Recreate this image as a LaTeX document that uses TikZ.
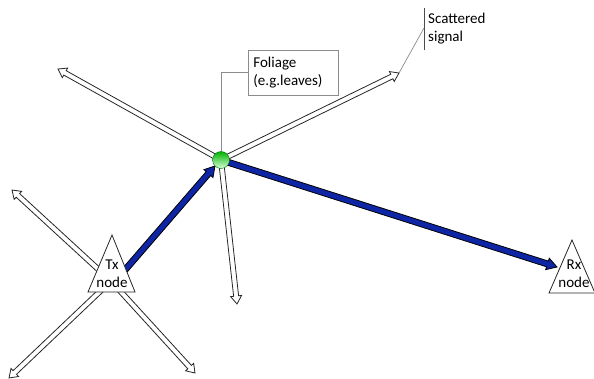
\documentclass[tikz,border=0pt]{standalone}
\usetikzlibrary{calc}
\usepackage{fontspec}
\setmainfont{Carlito}
\definecolor{sigblue}{RGB}{14,38,165}
\begin{document}
\begin{tikzpicture}[x=1pt,y=-1pt,
  fat/.style n args={3}{to path={
    ($(\tikztostart)!#1!90:(\tikztotarget)$)
    -- ($(\tikztotarget)!#3!(\tikztostart)!#1!-90:(\tikztostart)$)
    -- ($(\tikztotarget)!#3!(\tikztostart)!#2!-90:(\tikztostart)$)
    -- (\tikztotarget)
    -- ($(\tikztotarget)!#3!(\tikztostart)!#2!90:(\tikztostart)$)
    -- ($(\tikztotarget)!#3!(\tikztostart)!#1!90:(\tikztostart)$)
    -- ($(\tikztostart)!#1!-90:(\tikztotarget)$) -- cycle}},
  hollow/.style={draw=black!85, line width=0.8pt, fill=white, line join=miter, fat={2.5pt}{5.5pt}{8pt}},
  bluearr/.style={draw=black, line width=0.8pt, fill=sigblue, line join=miter, fat={3pt}{6pt}{10pt}},
  tri/.style={draw=black!85, line width=0.8pt, fill=white, line join=miter},
  lbl/.style={align=center, inner sep=0pt, font=\fontsize{15}{18.5}\selectfont},
  callout/.style={align=left, font=\fontsize{15}{18}\selectfont},
  leader/.style={draw=black!45, line width=0.7pt}
]
\useasboundingbox (0,0) rectangle (594,379);

% key points
\coordinate (F) at (221,160);
\coordinate (O) at (111,281);
\coordinate (ful) at (58,69);
\coordinate (fur) at (399,73);
\coordinate (fdn) at (237,304);
\coordinate (tul) at (12,190);
\coordinate (tll) at (9,378);
\coordinate (tlr) at (195,373);
\coordinate (txe) at (125,270);
\coordinate (fin) at (215,166);
\coordinate (rxtip) at (557,267);

% hollow scattered arrows
\draw[hollow] (F) to (ful);
\draw[hollow] (F) to (fur);
\draw[hollow] (F) to (fdn);
\draw[hollow] (O) to (tul);
\draw[hollow] (O) to (tll);
\draw[hollow] (O) to (tlr);

% blue signal arrows
\draw[bluearr] (txe) to (fin);
\draw[bluearr] (F) to (rxtip);

% triangles
\draw[tri] (112,235) -- (88,292) -- (135,292) -- cycle;
\node[lbl] (tx) at (112,273.5) {Tx\\node};
\draw[tri] (572,240) -- (549,293) -- (595,293) -- cycle;
\node[lbl] (rx) at (574,273.5) {Rx\\node};

% foliage callout
\node[callout, draw=black!45, line width=0.7pt, anchor=north west, text width=80pt,
      inner xsep=5pt, minimum height=45pt] (fol) at (248,50) {Foliage\\(e.g.leaves)};
\node[circle, minimum size=17pt, inner sep=0pt, top color=green!70!black,
      bottom color=green!15, draw=green!45!black, line width=0.4pt] (ball) at (F) {};
\draw[leader] (fol.west) -| (ball.north);

% scattered signal callout
\coordinate (sv1) at (424,8);
\coordinate (sv2) at (424,50);
\coordinate (svm) at (424,28);
\draw[leader, draw=black!70] (sv1) -- (sv2);
\draw[leader] (svm) -- (fur);
\node[callout, anchor=west, inner xsep=4pt] (scat) at (424,29) {Scattered\\signal};
\end{tikzpicture}
\end{document}
